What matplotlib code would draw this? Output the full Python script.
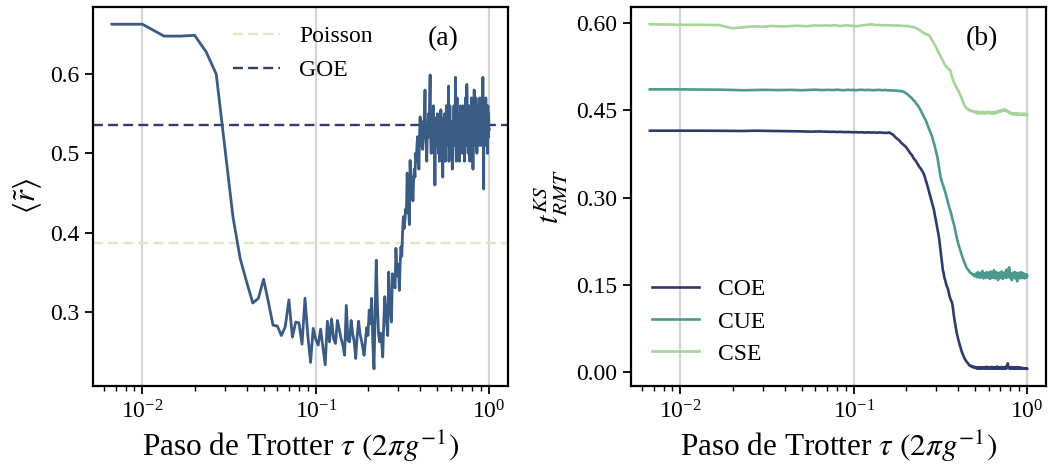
import numpy as np
import matplotlib
matplotlib.use("Agg")
import matplotlib.pyplot as plt
from matplotlib.ticker import FixedLocator, FormatStrFormatter

plt.rcParams['font.family'] = ['Liberation Serif', 'DejaVu Serif']
plt.rcParams['mathtext.fontset'] = 'stix'

# Trotter steps: tau = k / 300, k = 2..300
k_steps = np.arange(2, 301)
tau = k_steps / 300.0

# ---- panel (a): mean ratio <r~>
r_mean = [
    0.663, 0.663, 0.648, 0.648, 0.649, 0.628, 0.600, 0.504, 0.419,
    0.367, 0.337, 0.311, 0.317, 0.341, 0.312, 0.283, 0.282, 0.270, 0.281,
    0.315, 0.268, 0.287, 0.286, 0.259, 0.317, 0.270, 0.236, 0.279, 0.265,
    0.258, 0.278, 0.255, 0.233, 0.288, 0.262, 0.291, 0.266, 0.260, 0.289,
    0.278, 0.266, 0.258, 0.245, 0.308, 0.264, 0.262, 0.289, 0.272, 0.262,
    0.241, 0.270, 0.288, 0.272, 0.264, 0.255, 0.245, 0.262, 0.280, 0.270,
    0.302, 0.285, 0.317, 0.260, 0.228, 0.300, 0.365, 0.310, 0.273, 0.262,
    0.273, 0.262, 0.243, 0.285, 0.319, 0.300, 0.285, 0.270, 0.350, 0.310,
    0.300, 0.287, 0.348, 0.340, 0.335, 0.330, 0.380, 0.355, 0.345, 0.360,
    0.327, 0.360, 0.382, 0.370, 0.400, 0.420, 0.405, 0.415, 0.430, 0.425,
    0.475, 0.450, 0.430, 0.410, 0.491, 0.460, 0.450, 0.470, 0.440, 0.465,
    0.480, 0.470, 0.500, 0.490, 0.510, 0.521, 0.500, 0.480, 0.520, 0.546,
    0.520, 0.510, 0.530, 0.505, 0.540, 0.520, 0.550, 0.580, 0.520, 0.510,
    0.490, 0.530, 0.520, 0.550, 0.530, 0.560, 0.599, 0.520, 0.500, 0.540,
    0.530, 0.520, 0.560, 0.500, 0.530, 0.460, 0.520, 0.545, 0.530, 0.510,
    0.550, 0.520, 0.500, 0.530, 0.490, 0.540, 0.520, 0.555, 0.530, 0.510,
    0.540, 0.470, 0.530, 0.545, 0.500, 0.550, 0.520, 0.490, 0.530, 0.560,
    0.520, 0.540, 0.510, 0.550, 0.585, 0.490, 0.520, 0.560, 0.530, 0.510,
    0.540, 0.520, 0.530, 0.480, 0.500, 0.540, 0.520, 0.560, 0.510, 0.530,
    0.550, 0.596, 0.530, 0.490, 0.540, 0.570, 0.510, 0.540, 0.520, 0.550,
    0.530, 0.490, 0.550, 0.520, 0.560, 0.530, 0.510, 0.550, 0.520, 0.540,
    0.500, 0.560, 0.530, 0.520, 0.550, 0.490, 0.540, 0.520, 0.570, 0.530,
    0.510, 0.550, 0.587, 0.570, 0.520, 0.540, 0.500, 0.560, 0.530, 0.550,
    0.520, 0.490, 0.540, 0.560, 0.530, 0.510, 0.570, 0.530, 0.550, 0.520,
    0.560, 0.480, 0.530, 0.550, 0.540, 0.580, 0.520, 0.550, 0.510, 0.540,
    0.530, 0.570, 0.520, 0.550, 0.500, 0.560, 0.530, 0.540, 0.510, 0.550,
    0.520, 0.560, 0.540, 0.530, 0.570, 0.510, 0.550, 0.520, 0.540, 0.560,
    0.530, 0.570, 0.510, 0.550, 0.540, 0.596, 0.530, 0.520, 0.455, 0.550,
    0.530, 0.540, 0.560, 0.520, 0.550, 0.530, 0.570, 0.510, 0.540, 0.560,
    0.520, 0.550, 0.530, 0.500, 0.560, 0.540, 0.520, 0.550, 0.530, 0.530,
]
r_poisson = 0.3863
r_goe = 0.5359

# ---- panel (b): KS statistic vs. random-matrix ensembles
coe = [
    0.415, 0.415, 0.415, 0.4148, 0.4145, 0.4145, 0.415, 0.4148, 0.4145,
    0.4145, 0.4143, 0.414, 0.4142, 0.4138, 0.4135, 0.4133, 0.4135, 0.4137, 0.4135,
    0.4133, 0.413, 0.4132, 0.4128, 0.413, 0.4127, 0.4125, 0.4128, 0.4125, 0.4122,
    0.4125, 0.412, 0.4123, 0.412, 0.4118, 0.4122, 0.412, 0.4117, 0.412, 0.4118,
    0.4115, 0.412, 0.4118, 0.4115, 0.4112, 0.4115, 0.411, 0.412, 0.4105, 0.409,
    0.407, 0.404, 0.402, 0.400, 0.398, 0.395, 0.393, 0.391, 0.389, 0.387,
    0.384, 0.381, 0.378, 0.375, 0.373, 0.369, 0.366, 0.364, 0.361, 0.358,
    0.355, 0.352, 0.350, 0.347, 0.344, 0.341, 0.336, 0.330, 0.325, 0.319,
    0.313, 0.307, 0.301, 0.296, 0.290, 0.285, 0.279, 0.270, 0.263, 0.255,
    0.248, 0.240, 0.232, 0.220, 0.208, 0.198, 0.186, 0.175, 0.170, 0.162,
    0.158, 0.153, 0.148, 0.146, 0.142, 0.136, 0.131, 0.127, 0.124, 0.121,
    0.118, 0.110, 0.100, 0.092, 0.085, 0.078, 0.072, 0.066, 0.062, 0.057,
    0.053, 0.049, 0.045, 0.042, 0.038, 0.035, 0.032, 0.030, 0.027, 0.025,
    0.023, 0.021, 0.020, 0.018, 0.017, 0.016, 0.015, 0.013, 0.012, 0.011,
    0.011, 0.010, 0.0105, 0.0098, 0.009, 0.0085, 0.0095, 0.008, 0.0075, 0.0088,
    0.0075, 0.0068, 0.0082, 0.0063, 0.0071, 0.0079, 0.0060, 0.0072, 0.0085, 0.0066,
    0.0058, 0.0074, 0.0069, 0.0081, 0.0064, 0.0070, 0.0077, 0.0062, 0.0088, 0.0067,
    0.0073, 0.0059, 0.0080, 0.0071, 0.0065, 0.0092, 0.0068, 0.0074, 0.0061, 0.0079,
    0.0070, 0.0083, 0.0063, 0.0069, 0.0076, 0.0058, 0.0072, 0.0090, 0.0066, 0.0075,
    0.0062, 0.0078, 0.0071, 0.0067, 0.0085, 0.0060, 0.0073, 0.0069, 0.0080, 0.0064,
    0.0096, 0.0072, 0.0065, 0.0077, 0.0061, 0.0070, 0.0083, 0.0068, 0.0074, 0.0059,
    0.0081, 0.0067, 0.0072, 0.0088, 0.0063, 0.0075, 0.0069, 0.0078, 0.0060, 0.0073,
    0.0066, 0.0084, 0.0071, 0.0065, 0.0079, 0.0062, 0.0100, 0.0070, 0.0068, 0.0076,
    0.0118, 0.0150, 0.0120, 0.0085, 0.0072, 0.0066, 0.0079, 0.0063, 0.0071, 0.0082,
    0.0068, 0.0074, 0.0061, 0.0077, 0.0070, 0.0086, 0.0064, 0.0072, 0.0067, 0.0080,
    0.0059, 0.0073, 0.0069, 0.0078, 0.0062, 0.0075, 0.0070, 0.0065, 0.0081, 0.0068,
    0.0063, 0.0072, 0.0077, 0.0060, 0.0070, 0.0074, 0.0066, 0.0079, 0.0062, 0.0071,
    0.0068, 0.0064, 0.0075, 0.0061, 0.0069, 0.0073, 0.0058, 0.0067, 0.0070, 0.0063,
    0.0066, 0.0060, 0.0071, 0.0064, 0.0059, 0.0068, 0.0062, 0.0065, 0.0057, 0.0063,
    0.0060, 0.0066, 0.0058, 0.0062, 0.0061, 0.0059, 0.0064, 0.0057, 0.0060, 0.0058,
]
cue = [
    0.486, 0.486, 0.4858, 0.4855, 0.485, 0.4845, 0.4848, 0.4852, 0.485,
    0.4848, 0.485, 0.4852, 0.4848, 0.4845, 0.4848, 0.485, 0.4855, 0.485, 0.4848,
    0.4852, 0.485, 0.4848, 0.4855, 0.485, 0.4845, 0.485, 0.4852, 0.4848, 0.485,
    0.4845, 0.485, 0.4855, 0.485, 0.4848, 0.4852, 0.485, 0.4848, 0.4845, 0.4848,
    0.485, 0.4852, 0.4848, 0.4845, 0.485, 0.4848, 0.4845, 0.4842, 0.4845, 0.484,
    0.4842, 0.4838, 0.484, 0.4835, 0.4832, 0.4828, 0.483, 0.482, 0.481, 0.479,
    0.478, 0.476, 0.474, 0.4725, 0.4706, 0.468, 0.466, 0.464, 0.461, 0.459,
    0.456, 0.453, 0.450, 0.446, 0.443, 0.439, 0.436, 0.433, 0.429, 0.424,
    0.420, 0.416, 0.412, 0.408, 0.4045, 0.399, 0.394, 0.388, 0.382, 0.376,
    0.370, 0.361, 0.352, 0.344, 0.3356, 0.330, 0.326, 0.322, 0.318, 0.314,
    0.310, 0.305, 0.300, 0.295, 0.291, 0.286, 0.282, 0.278, 0.274, 0.269,
    0.264, 0.260, 0.2554, 0.252, 0.246, 0.240, 0.235, 0.230, 0.226, 0.221,
    0.218, 0.214, 0.211, 0.208, 0.204, 0.201, 0.198, 0.195, 0.192, 0.189,
    0.187, 0.185, 0.182, 0.180, 0.178, 0.177, 0.176, 0.175, 0.173, 0.172,
    0.171, 0.170, 0.170, 0.169, 0.168, 0.167, 0.168, 0.166, 0.165, 0.167,
    0.168, 0.165, 0.170, 0.163, 0.167, 0.172, 0.164, 0.166, 0.169, 0.162,
    0.167, 0.171, 0.165, 0.163, 0.168, 0.174, 0.166, 0.161, 0.169, 0.165,
    0.170, 0.164, 0.167, 0.162, 0.172, 0.166, 0.168, 0.163, 0.165, 0.171,
    0.164, 0.169, 0.160, 0.167, 0.173, 0.165, 0.168, 0.162, 0.170, 0.166,
    0.163, 0.168, 0.175, 0.164, 0.167, 0.161, 0.169, 0.166, 0.172, 0.163,
    0.167, 0.164, 0.170, 0.158, 0.168, 0.165, 0.171, 0.163, 0.166, 0.169,
    0.162, 0.168, 0.165, 0.173, 0.164, 0.167, 0.160, 0.170, 0.166, 0.163,
    0.169, 0.165, 0.172, 0.164, 0.167, 0.162, 0.168, 0.176, 0.165, 0.170,
    0.163, 0.167, 0.171, 0.164, 0.168, 0.180, 0.172, 0.165, 0.162, 0.169,
    0.166, 0.163, 0.170, 0.167, 0.158, 0.165, 0.168, 0.162, 0.171, 0.166,
    0.164, 0.169, 0.163, 0.167, 0.165, 0.172, 0.161, 0.168, 0.166, 0.163,
    0.170, 0.165, 0.156, 0.167, 0.164, 0.169, 0.162, 0.166, 0.171, 0.165,
    0.163, 0.168, 0.166, 0.161, 0.169, 0.164, 0.167, 0.172, 0.163, 0.166,
    0.168, 0.162, 0.165, 0.170, 0.163, 0.167, 0.164, 0.169, 0.161, 0.166,
    0.165, 0.168, 0.163, 0.167, 0.164, 0.162, 0.168, 0.165, 0.163, 0.166,
]
cse = [
    0.598, 0.597, 0.597, 0.5965, 0.591, 0.593, 0.5945, 0.5935, 0.595,
    0.5945, 0.594, 0.5948, 0.5955, 0.595, 0.5945, 0.5952, 0.596, 0.5955, 0.5958,
    0.596, 0.5955, 0.5962, 0.5958, 0.595, 0.5955, 0.5962, 0.5958, 0.5955, 0.5952,
    0.5945, 0.595, 0.5958, 0.5962, 0.5968, 0.597, 0.5975, 0.598, 0.5972, 0.5968,
    0.5965, 0.5968, 0.5962, 0.5965, 0.596, 0.5962, 0.5965, 0.596, 0.5958, 0.5962,
    0.596, 0.5955, 0.5958, 0.596, 0.5955, 0.5952, 0.5955, 0.595, 0.5948, 0.5952,
    0.595, 0.5945, 0.594, 0.5938, 0.5935, 0.593, 0.5925, 0.592, 0.591, 0.590,
    0.589, 0.588, 0.5865, 0.585, 0.584, 0.583, 0.582, 0.581, 0.5805, 0.5798,
    0.5795, 0.578, 0.576, 0.573, 0.570, 0.568, 0.565, 0.562, 0.560, 0.557,
    0.554, 0.551, 0.548, 0.546, 0.543, 0.540, 0.538, 0.535, 0.532, 0.530,
    0.528, 0.526, 0.525, 0.523, 0.522, 0.521, 0.520, 0.519, 0.515, 0.510,
    0.506, 0.503, 0.499, 0.497, 0.494, 0.492, 0.490, 0.488, 0.486, 0.484,
    0.482, 0.480, 0.477, 0.475, 0.473, 0.470, 0.468, 0.465, 0.462, 0.460,
    0.458, 0.456, 0.455, 0.454, 0.453, 0.452, 0.452, 0.451, 0.450, 0.4505,
    0.450, 0.449, 0.4495, 0.449, 0.448, 0.4485, 0.448, 0.4475, 0.448, 0.447,
    0.4465, 0.4455, 0.448, 0.4445, 0.447, 0.4458, 0.4448, 0.4472, 0.446, 0.4452,
    0.4468, 0.4445, 0.4462, 0.4475, 0.4455, 0.4448, 0.4465, 0.4452, 0.447, 0.4458,
    0.4445, 0.446, 0.4472, 0.4455, 0.4465, 0.4448, 0.4462, 0.4478, 0.4458, 0.447,
    0.4452, 0.4465, 0.4448, 0.4468, 0.4455, 0.4462, 0.4445, 0.4458, 0.447, 0.4452,
    0.4462, 0.4448, 0.4458, 0.4445, 0.4465, 0.4452, 0.4468, 0.4458, 0.4472, 0.4462,
    0.4475, 0.4465, 0.448, 0.447, 0.4485, 0.4475, 0.449, 0.4478, 0.4492, 0.4482,
    0.4495, 0.4485, 0.450, 0.4488, 0.4505, 0.4492, 0.451, 0.4495, 0.4502, 0.4488,
    0.4505, 0.4492, 0.4515, 0.4498, 0.4508, 0.4495, 0.4502, 0.4488, 0.4495, 0.448,
    0.4488, 0.4475, 0.4482, 0.4468, 0.4478, 0.4462, 0.447, 0.4455, 0.4465, 0.445,
    0.4445, 0.4438, 0.4452, 0.4442, 0.4435, 0.4448, 0.444, 0.4432, 0.4445, 0.4438,
    0.4442, 0.4435, 0.4448, 0.444, 0.4432, 0.4445, 0.4438, 0.4428, 0.4442, 0.4435,
    0.4438, 0.443, 0.4445, 0.4435, 0.4428, 0.444, 0.4432, 0.4425, 0.4438, 0.443,
    0.4435, 0.4428, 0.4442, 0.443, 0.4425, 0.4438, 0.443, 0.4422, 0.4435, 0.4428,
    0.443, 0.4425, 0.4438, 0.4428, 0.4422, 0.4435, 0.4428, 0.4445, 0.4432, 0.442,
    0.4432, 0.4426, 0.4436, 0.4428, 0.4422, 0.4434, 0.4426, 0.4440, 0.4430, 0.4420,
]
ensembles = ['COE', 'CUE', 'CSE']

# ---- styling
c_main = '#3a5c84'
c_poisson = '#e2e6c9'
c_goe = '#363b67'
c_ens = ['#2f3b6e', '#4b9a8d', '#a6d49b']

fig = plt.figure(figsize=(10.51, 4.67), dpi=100)
W, H = 1051, 467
ax1 = fig.add_axes([93 / W, (H - 386) / H, 415 / W, 379 / H])
ax2 = fig.add_axes([631 / W, (H - 386) / H, 415 / W, 379 / H])

for ax in (ax1, ax2):
    ax.set_xscale('log')
    ax.grid(axis='x', which='major', color='#d4d4d4', lw=1.6)
    ax.set_axisbelow(True)
    for s in ax.spines.values():
        s.set_linewidth(1.6)
    ax.tick_params(which='major', direction='out', length=6, width=1.3,
                   labelsize=17, pad=4)
    ax.tick_params(which='minor', direction='out', length=3.5, width=1.0)
    ax.set_xlabel(r'Paso de Trotter $\tau$ $(2\pi g^{-1})$', fontsize=22.5)

# panel (a)
ax1.axhline(r_poisson, color=c_poisson, lw=1.7, ls=(0, (4.2, 2.2)), label='Poisson')
ax1.axhline(r_goe, color=c_goe, lw=1.7, ls=(0, (4.2, 2.2)), label='GOE')
ax1.plot(tau, r_mean, color=c_main, lw=2.0)
ax1.set_ylabel(r'$\langle \tilde{r} \rangle$', fontsize=22)
ax1.yaxis.set_major_locator(FixedLocator([0.3, 0.4, 0.5, 0.6]))
ax1.legend(loc='upper left', bbox_to_anchor=(0.315, 0.975), frameon=False,
           fontsize=17, handlelength=2.0, borderaxespad=0.0)
ax1.text(0.88, 0.95, '(a)', transform=ax1.transAxes, ha='right', va='top',
         fontsize=20)

# panel (b)
for name, vals, c in zip(ensembles, [coe, cue, cse], c_ens):
    ax2.plot(tau, vals, color=c, lw=1.9, label=name)
ax2.set_ylabel(r'$t^{KS}_{RMT}$', fontsize=22)
ax2.yaxis.set_major_locator(FixedLocator([0.0, 0.15, 0.30, 0.45, 0.60]))
ax2.yaxis.set_major_formatter(FormatStrFormatter('%.2f'))
ax2.legend(loc='lower left', frameon=False, fontsize=17, handlelength=2.0,
           labelspacing=0.45)
ax2.text(0.884, 0.95, '(b)', transform=ax2.transAxes, ha='right', va='top',
         fontsize=20)

fig.savefig('out.png', dpi=100)
